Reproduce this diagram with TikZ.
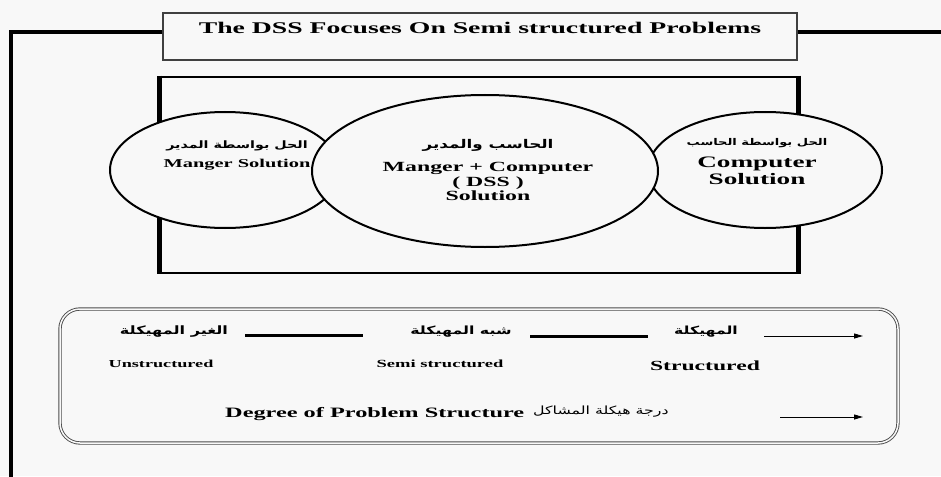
\documentclass[tikz,border=0pt]{standalone}
\usepackage{fontspec}
\setmainfont{Liberation Serif}[FakeStretch=1.7]
\newfontfamily\arabicfont[Script=Arabic,FakeStretch=1.4]{DejaVu Sans}
\TeXXeTstate=1
\usetikzlibrary{arrows.meta,shapes.geometric}
\newcommand\artext[1]{{\arabicfont\beginR #1\endR}}
\definecolor{paper}{HTML}{F8F8F8}
\tikzset{
  frame/.style={line width=4pt},
  titlebox/.style={draw=black!75, line width=1.2pt, fill=paper,
    minimum width=634pt, minimum height=47pt, inner sep=0pt},
  sol/.style={ellipse, draw, fill=paper, line width=2pt, inner sep=0pt},
  lbl/.style={inner sep=0pt, anchor=base},
  arlbl/.style={inner sep=0pt, font=\bfseries\fontsize{#1}{14}\selectfont},
  bar/.style={line width=3pt},
  ptr/.style={line width=1pt, -{Triangle[length=9pt,width=5pt]}},
}
\begin{document}
\begin{tikzpicture}[x=1pt,y=-1pt]
  \fill[paper] (0,0) rectangle (941,476);
  \useasboundingbox (0,0) rectangle (941,476);

  % title and outer frame
  \node[titlebox] (title) at (480,36.5) {};
  \node[lbl, font=\bfseries\fontsize{16.3}{18}\selectfont] (titletext) at (480,34)
    {The DSS Focuses On Semi structured Problems};
  \coordinate (frameL) at (11,32);
  \coordinate (frameB) at (11,480);
  \coordinate (frameR) at (945,32);
  \draw[frame] (title.west |- frameL) -- (frameL) -- (frameB);
  \draw[frame] (title.east |- frameR) -- (frameR);

  % box holding the three solution areas
  \node[draw, line width=2.7pt, minimum width=636pt, minimum height=196pt, inner sep=0pt]
    (inner) at (479,175) {};
  \draw[line width=4.5pt] (inner.north west) -- (inner.south west);
  \draw[line width=4.5pt] (inner.north east) -- (inner.south east);

  \node[sol, minimum width=230pt, minimum height=116pt] (mgr) at (225,170) {};
  \node[sol, minimum width=234pt, minimum height=116pt] (cmp) at (765,170) {};
  \node[sol, minimum width=346pt, minimum height=152pt] (dss) at (485,171) {};

  % manager solution
  \node[arlbl=10.2] (mgrar) at (237,146) {\artext{الحل بواسطة المدير}};
  \node[lbl, font=\bfseries\fontsize{12}{14}\selectfont] (mgrtxt) at (237,167) {Manger Solution};

  % manager + computer solution
  \node[arlbl=12] (dssar) at (488,145) {\artext{الحاسب والمدير}};
  \node[lbl, font=\bfseries\fontsize{14}{16}\selectfont] (dss1) at (488,171) {Manger + Computer};
  \node[lbl, font=\bfseries\fontsize{14}{16}\selectfont] (dss2) at (488,186) {( DSS )};
  \node[lbl, font=\bfseries\fontsize{14}{16}\selectfont] (dss3) at (488,200) {Solution};

  % computer solution
  \node[arlbl=9.3] (cmpar) at (757,143) {\artext{الحل بواسطة الحاسب}};
  \node[lbl, font=\bfseries\fontsize{16}{18}\selectfont] (cmp1) at (757,167) {Computer};
  \node[lbl, font=\bfseries\fontsize{16}{18}\selectfont] (cmp2) at (757,184) {Solution};

  % degree of structure scale
  \node[draw=black!70, line width=0.9pt, double=paper, double distance=1.5pt,
        rounded corners=20pt, minimum width=838pt, minimum height=134pt, inner sep=0pt]
    (scale) at (479,376) {};

  \node[arlbl=11.5] (unsar) at (174,332) {\artext{الغير المهيكلة}};
  \node[arlbl=11.3] (semiar) at (461,332) {\artext{شبه المهيكلة}};
  \node[arlbl=11.2] (strar) at (706,332) {\artext{المهيكلة}};

  \coordinate (b1s) at (245,335);  \coordinate (b1e) at (363,335);
  \coordinate (b2s) at (530,336);  \coordinate (b2e) at (648,336);
  \coordinate (a1s) at (764,336);  \coordinate (a1e) at (863,336);
  \draw[bar] (b1s) -- (b1e);
  \draw[bar] (b2s) -- (b2e);
  \draw[ptr] (a1s) -- (a1e);

  \node[lbl, font=\bfseries\fontsize{10.7}{12}\selectfont] (uns) at (161,367) {Unstructured};
  \node[lbl, font=\bfseries\fontsize{10.9}{12}\selectfont] (semi) at (440,367) {Semi structured};
  \node[lbl, font=\bfseries\fontsize{13.9}{16}\selectfont] (str) at (705,370) {Structured};

  \node[lbl, anchor=base west, font=\bfseries\fontsize{14.3}{16}\selectfont] (deg) at (225,417)
    {Degree of Problem Structure};
  \node[inner sep=0pt, anchor=west, font=\fontsize{11.3}{14}\selectfont] (degar) at (533,412)
    {\artext{درجة هيكلة المشاكل}};
  \coordinate (a2s) at (780,417);  \coordinate (a2e) at (863,417);
  \draw[ptr] (a2s) -- (a2e);
\end{tikzpicture}
\end{document}
